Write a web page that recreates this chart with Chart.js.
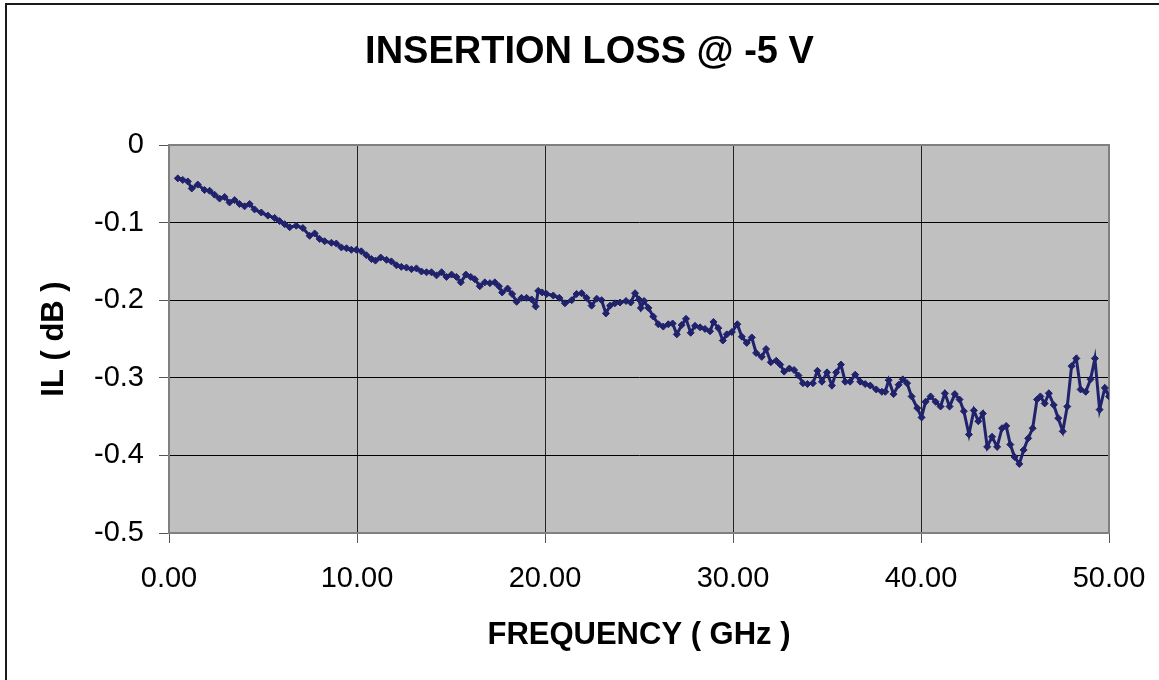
<!DOCTYPE html>
<html>
<head>
<meta charset="utf-8">
<script src="https://cdn.jsdelivr.net/npm/chart.js@4.4.1/dist/chart.umd.min.js"></script>
<style>
    html, body { margin: 0; padding: 0; background: #ffffff; }
    #wrap { width: 1159px; height: 680px; position: relative; }
</style>
</head>
<body>
<div id="wrap"><canvas id="ilChart"></canvas></div>
<script>
// Frecuencia (GHz) y pérdida de inserción (dB)
const freqGHz = [
    0.47, 0.73, 1.00, 1.21, 1.53, 1.89, 2.16, 2.42, 2.69, 2.96,
    3.22, 3.49, 3.75, 4.02, 4.29, 4.55, 4.91, 5.26, 5.62, 5.88,
    6.15, 6.42, 6.77, 7.12, 7.48, 7.75, 8.01, 8.28, 8.64, 8.90,
    9.17, 9.44, 9.70, 9.97, 10.23, 10.50, 10.77, 10.98, 11.26, 11.57,
    11.83, 12.10, 12.36, 12.63, 12.90, 13.16, 13.43, 13.70, 13.96, 14.23,
    14.50, 14.76, 15.03, 15.29, 15.52, 15.79, 16.05, 16.27, 16.53, 16.80,
    17.07, 17.33, 17.55, 17.72, 18.01, 18.25, 18.49, 18.75, 19.02, 19.29,
    19.50, 19.64, 19.85, 20.09, 20.44, 20.76, 21.06, 21.42, 21.68, 21.95,
    22.21, 22.48, 22.75, 23.01, 23.24, 23.46, 23.72, 23.99, 24.31, 24.56,
    24.79, 25.00, 25.10, 25.27, 25.50, 25.76, 26.03, 26.29, 26.56, 26.79,
    27.01, 27.27, 27.50, 27.75, 27.98, 28.25, 28.51, 28.78, 28.96, 29.22,
    29.46, 29.67, 29.94, 30.23, 30.47, 30.73, 31.00, 31.23, 31.53, 31.76,
    32.01, 32.30, 32.51, 32.72, 33.00, 33.25, 33.48, 33.72, 33.96, 34.25,
    34.49, 34.73, 35.00, 35.26, 35.49, 35.74, 35.97, 36.23, 36.50, 36.77,
    37.03, 37.30, 37.62, 37.92, 38.10, 38.28, 38.54, 38.81, 39.03, 39.26,
    39.50, 39.80, 40.03, 40.24, 40.51, 40.78, 41.04, 41.27, 41.52, 41.80,
    42.05, 42.28, 42.55, 42.81, 43.05, 43.29, 43.52, 43.78, 44.05, 44.31,
    44.53, 44.75, 44.98, 45.23, 45.46, 45.70, 45.94, 46.17, 46.35, 46.58,
    46.80, 47.06, 47.30, 47.54, 47.78, 48.01, 48.26, 48.49, 48.76, 49.02,
    49.25, 49.50, 49.78, 50.00
];
const lossDb = [
    -0.043, -0.045, -0.047, -0.056, -0.051, -0.058, -0.059, -0.064, -0.069, -0.067,
    -0.074, -0.071, -0.076, -0.079, -0.076, -0.083, -0.087, -0.091, -0.094, -0.098,
    -0.102, -0.106, -0.104, -0.107, -0.117, -0.114, -0.121, -0.124, -0.126, -0.127,
    -0.132, -0.133, -0.135, -0.135, -0.137, -0.142, -0.147, -0.149, -0.145, -0.148,
    -0.150, -0.155, -0.157, -0.158, -0.160, -0.159, -0.163, -0.164, -0.164, -0.168,
    -0.164, -0.170, -0.167, -0.170, -0.177, -0.167, -0.170, -0.173, -0.182, -0.177,
    -0.178, -0.177, -0.182, -0.190, -0.185, -0.192, -0.202, -0.197, -0.197, -0.199,
    -0.208, -0.188, -0.190, -0.192, -0.194, -0.197, -0.204, -0.200, -0.192, -0.191,
    -0.197, -0.207, -0.198, -0.200, -0.217, -0.207, -0.204, -0.203, -0.201, -0.203,
    -0.191, -0.199, -0.210, -0.201, -0.210, -0.221, -0.231, -0.234, -0.231, -0.230,
    -0.244, -0.232, -0.224, -0.242, -0.233, -0.235, -0.237, -0.240, -0.228, -0.236,
    -0.252, -0.244, -0.241, -0.231, -0.247, -0.255, -0.248, -0.268, -0.273, -0.263,
    -0.280, -0.278, -0.283, -0.292, -0.288, -0.290, -0.297, -0.307, -0.308, -0.307,
    -0.291, -0.305, -0.293, -0.310, -0.293, -0.283, -0.305, -0.305, -0.296, -0.305,
    -0.308, -0.310, -0.315, -0.318, -0.318, -0.303, -0.321, -0.309, -0.302, -0.307,
    -0.324, -0.339, -0.351, -0.331, -0.324, -0.331, -0.337, -0.320, -0.337, -0.321,
    -0.328, -0.343, -0.373, -0.342, -0.356, -0.346, -0.389, -0.376, -0.389, -0.365,
    -0.362, -0.386, -0.402, -0.411, -0.393, -0.378, -0.365, -0.328, -0.324, -0.333,
    -0.320, -0.335, -0.352, -0.369, -0.337, -0.285, -0.275, -0.315, -0.318, -0.302,
    -0.275, -0.341, -0.313, -0.324
];
const xTicks = [0, 10, 20, 30, 40, 50];
const yTicks = [0, -0.1, -0.2, -0.3, -0.4, -0.5];

const FONT = '"Liberation Sans", Arial, sans-serif';

// Fondo gris del área de trazado, borde y marco exterior
const plotFrame = {
    id: 'plotFrame',
    beforeDraw(chart) {
        const {ctx, chartArea: a} = chart;
        ctx.save();
        ctx.fillStyle = '#c0c0c0';
        ctx.fillRect(a.left, a.top, a.right - a.left, a.bottom - a.top);
        ctx.restore();
    },
    beforeDatasetsDraw(chart) {
        const {ctx, chartArea: a} = chart;
        ctx.save();
        ctx.strokeStyle = '#808080';
        ctx.lineWidth = 2;
        ctx.strokeRect(a.left, a.top, a.right - a.left, a.bottom - a.top);
        ctx.restore();
    },
    afterDraw(chart) {
        const ctx = chart.ctx;
        ctx.save();
        ctx.strokeStyle = '#1a1a1a';
        ctx.lineWidth = 2;
        ctx.strokeRect(6, 4, 1300, 1000);
        ctx.restore();
    }
};

const points = freqGHz.map((f, i) => ({x: f, y: lossDb[i]}));

new Chart(document.getElementById('ilChart'), {
    type: 'line',
    data: {
        datasets: [{
            label: 'IL',
            data: points,
            borderColor: '#20226b',
            backgroundColor: '#20226b',
            borderWidth: 3,
            pointStyle: 'rectRot',
            pointRadius: 3.5,
            pointBorderWidth: 1,
            tension: 0
        }]
    },
    options: {
        responsive: true,
        maintainAspectRatio: false,
        animation: false,
        layout: { padding: { left: 20, right: 0, top: 0, bottom: 0 } },
        plugins: {
            legend: { display: false },
            tooltip: { enabled: false },
            title: {
                display: true,
                text: 'INSERTION LOSS @ -5 V',
                color: '#000',
                font: { family: FONT, size: 38, weight: 'bold' },
                padding: { top: 30, bottom: 69.4 }
            }
        },
        scales: {
            x: {
                type: 'linear',
                min: 0,
                max: 50,
                afterBuildTicks: s => { s.ticks = xTicks.map(v => ({value: v})); },
                afterFit: s => { s.height = 147; s.paddingLeft = 0; s.paddingRight = 0; },
                ticks: {
                    color: '#000',
                    font: { family: FONT, size: 29 },
                    padding: 19,
                    maxRotation: 0,
                    callback: v => Number(v).toFixed(2)
                },
                grid: { color: '#222', lineWidth: 1, tickLength: 10, tickColor: '#555' },
                border: { display: true, color: '#808080', width: 2 },
                title: {
                    display: true,
                    text: 'FREQUENCY ( GHz )',
                    color: '#000',
                    font: { family: FONT, size: 31, weight: 'bold' },
                    padding: { top: 0, bottom: 26 }
                }
            },
            y: {
                min: -0.5,
                max: 0,
                afterBuildTicks: s => { s.ticks = yTicks.map(v => ({value: v})); },
                afterFit: s => { s.width = 149; },
                ticks: {
                    color: '#000',
                    font: { family: FONT, size: 29 },
                    padding: 15,
                    callback: v => (Math.abs(v) < 1e-9 ? '0' : Number(v).toFixed(1))
                },
                grid: { color: '#000', lineWidth: 1, tickLength: 10, tickColor: '#555' },
                border: { display: true, color: '#808080', width: 2 },
                title: {
                    display: true,
                    text: 'IL ( dB )',
                    color: '#000',
                    font: { family: FONT, size: 31, weight: 'bold' },
                    padding: { top: 16, bottom: 0 }
                }
            },
            yRight: {
                position: 'right',
                display: true,
                ticks: { display: false },
                grid: { display: false, drawTicks: false },
                border: { display: false },
                afterFit: s => { s.width = 50; }
            }
        }
    },
    plugins: [plotFrame]
});
</script>
</body>
</html>
